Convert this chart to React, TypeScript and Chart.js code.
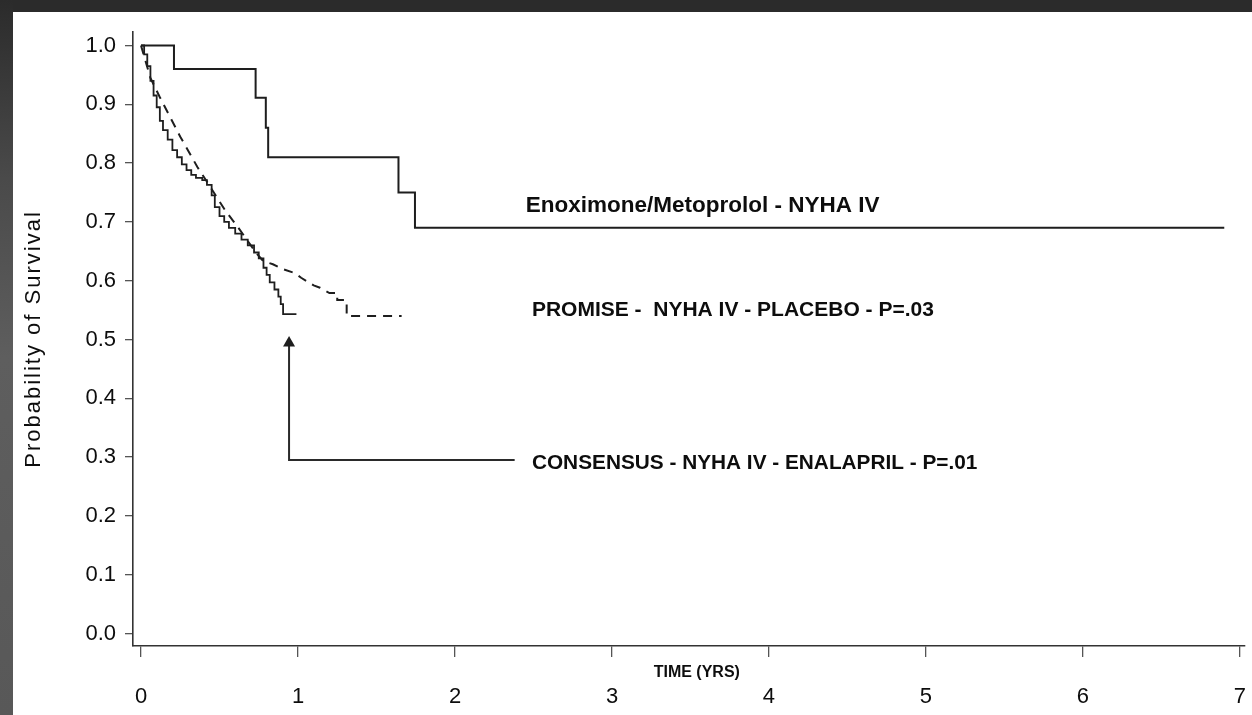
import React, { useEffect, useRef } from "react";
import { Chart, registerables } from "chart.js";

Chart.register(...registerables);

// ---------- data ----------
const xTicks = [0, 1, 2, 3, 4, 5, 6, 7];
const yTicks = [0, 0.1, 0.2, 0.3, 0.4, 0.5, 0.6, 0.7, 0.8, 0.9, 1.0];

// Enoximone/Metoprolol - NYHA IV (Kaplan-Meier steps)
const enoxTimes = [0, 0.21, 0.73, 0.795, 0.81, 1.64, 1.745, 6.9];
const enoxSurvival = [1.0, 0.96, 0.911, 0.86, 0.81, 0.75, 0.69, 0.69];

// CONSENSUS - NYHA IV - Enalapril (Kaplan-Meier steps)
const consTimes = [
  0, 0.02, 0.04, 0.06, 0.08, 0.1, 0.12, 0.14, 0.17, 0.2, 0.23, 0.26, 0.29, 0.32,
  0.35, 0.39, 0.42, 0.45, 0.47, 0.5, 0.53, 0.56, 0.6, 0.64, 0.68, 0.72, 0.75,
  0.78, 0.8, 0.82, 0.85, 0.875, 0.89, 0.905, 0.99,
];
const consSurvival = [
  1.0, 0.985, 0.965, 0.94, 0.915, 0.895, 0.872, 0.856, 0.84, 0.822, 0.81, 0.798,
  0.788, 0.78, 0.775, 0.771, 0.763, 0.745, 0.725, 0.71, 0.7, 0.69, 0.68, 0.67,
  0.66, 0.648, 0.638, 0.622, 0.61, 0.597, 0.585, 0.573, 0.56, 0.543, 0.543,
];

// PROMISE - NYHA IV - Placebo (dashed)
const promTimes = [
  0, 0.06, 0.12, 0.25, 0.36, 0.44, 0.535, 0.62, 0.74, 0.78, 0.84, 0.9, 0.98,
  1.02, 1.1, 1.14, 1.2, 1.25, 1.25, 1.31, 1.31, 1.66,
];
const promSurvival = [
  1.0, 0.945, 0.912, 0.845, 0.793, 0.76, 0.72, 0.69, 0.645, 0.633, 0.628, 0.62,
  0.613, 0.605, 0.592, 0.588, 0.579, 0.579, 0.567, 0.567, 0.54, 0.54,
];

// arrow pointing at the CONSENSUS curve
const arrowX = [2.38, 0.943, 0.943];
const arrowY = [0.295, 0.295, 0.49];
const arrowTipY = 0.506;

// annotation texts
const labelTexts = [
  "Enoximone/Metoprolol - NYHA IV",
  "PROMISE -  NYHA IV - PLACEBO - P=.03",
  "CONSENSUS - NYHA IV - ENALAPRIL - P=.01",
];
const labelX = [2.45, 2.49, 2.49];
const labelY = [0.728, 0.55, 0.29];
const labelSizes = [22.5, 21, 20.8];

const xTitle = "TIME (YRS)";
const yTitle = "Probability of Survival";

// ---------- styles ----------
const FONT = "'Liberation Sans', Arial, Helvetica, sans-serif";
const INK = "#0d0d0d";
const LINE = "#1e1e1e";

const X_MIN = -0.051;
const X_MAX = 7.032;
const Y_MIN = -0.0213;
const Y_MAX = 1.023;

const pts = (xs: number[], ys: number[]) => xs.map((x, i) => ({ x, y: ys[i] }));

const annotationPlugin = {
  id: "annotations",
  afterDraw(chart: any) {
    const { ctx, scales, chartArea } = chart;
    const xs = scales.x;
    const ys = scales.y;
    ctx.save();
    // arrow head
    const ax = xs.getPixelForValue(arrowX[arrowX.length - 1]);
    const tip = ys.getPixelForValue(arrowTipY);
    const base = ys.getPixelForValue(arrowY[arrowY.length - 1]) + 1;
    ctx.fillStyle = LINE;
    ctx.beginPath();
    ctx.moveTo(ax, tip);
    ctx.lineTo(ax - 6, base);
    ctx.lineTo(ax + 6, base);
    ctx.closePath();
    ctx.fill();

    // annotation labels
    ctx.fillStyle = INK;
    ctx.textAlign = "left";
    ctx.textBaseline = "middle";
    labelTexts.forEach((t, i) => {
      ctx.font = `bold ${labelSizes[i]}px ${FONT}`;
      ctx.fillText(t, xs.getPixelForValue(labelX[i]), ys.getPixelForValue(labelY[i]));
    });

    // x title (between tick marks and tick labels)
    ctx.font = `bold 16px ${FONT}`;
    ctx.textAlign = "center";
    ctx.fillText(xTitle, xs.getPixelForValue(3.54), xs.top + 27);

    // y title
    ctx.translate(21, (chartArea.top + chartArea.bottom) / 2);
    ctx.rotate(-Math.PI / 2);
    ctx.font = `22px ${FONT}`;
    (ctx as any).letterSpacing = "2px";
    ctx.textAlign = "center";
    ctx.fillText(yTitle, 0, 0);
    ctx.restore();
  },
};

export default function App() {
  const ref = useRef<HTMLCanvasElement>(null);

  useEffect(() => {
    const canvas = ref.current;
    if (!canvas) return;
    const chart = new Chart(canvas, {
      type: "line",
      data: {
        datasets: [
          {
            label: "Enoximone/Metoprolol - NYHA IV",
            data: pts(enoxTimes, enoxSurvival),
            stepped: "before",
            borderColor: LINE,
            borderWidth: 2,
            pointRadius: 0,
          },
          {
            label: "CONSENSUS - NYHA IV - Enalapril",
            data: pts(consTimes, consSurvival),
            stepped: "before",
            borderColor: LINE,
            borderWidth: 1.8,
            pointRadius: 0,
          },
          {
            label: "PROMISE - NYHA IV - Placebo",
            data: pts(promTimes, promSurvival),
            borderColor: LINE,
            borderWidth: 2,
            borderDash: [9, 7],
            pointRadius: 0,
            tension: 0,
          },
          {
            label: "arrow",
            data: pts(arrowX, arrowY),
            borderColor: "#2a2a2a",
            borderWidth: 2,
            pointRadius: 0,
          },
        ],
      },
      options: {
        animation: false,
        responsive: false,
        devicePixelRatio: 1,
        layout: { padding: { top: 20, right: 7, left: 0, bottom: 0 } },
        plugins: { legend: { display: false }, tooltip: { enabled: false } },
        scales: {
          x: {
            type: "linear",
            min: X_MIN,
            max: X_MAX,
            afterBuildTicks: (s: any) => {
              s.ticks = xTicks.map((v) => ({ value: v }));
            },
            afterFit: (s: any) => {
              s.height = 69;
              s.paddingLeft = 0;
              s.paddingRight = 0;
            },
            grid: {
              drawOnChartArea: false,
              drawTicks: true,
              tickLength: 11,
              color: "#555",
              lineWidth: 1.3,
            },
            border: { display: true, color: "#333", width: 1.6 },
            ticks: {
              font: { family: FONT, size: 22 },
              color: INK,
              padding: 27,
              maxRotation: 0,
              autoSkip: false,
              callback: (v: any) => String(v),
            },
          },
          y: {
            type: "linear",
            min: Y_MIN,
            max: Y_MAX,
            afterBuildTicks: (s: any) => {
              s.ticks = yTicks.map((v) => ({ value: v }));
            },
            afterFit: (s: any) => {
              s.width = 120;
              s.paddingTop = 0;
              s.paddingBottom = 0;
            },
            grid: {
              drawOnChartArea: false,
              drawTicks: true,
              tickLength: 8,
              color: "#555",
              lineWidth: 1.3,
            },
            border: { display: true, color: "#333", width: 1.6 },
            ticks: {
              font: { family: FONT, size: 22 },
              color: INK,
              padding: 9,
              autoSkip: false,
              callback: (v: any) => Number(v).toFixed(1),
            },
          },
        },
      },
      plugins: [annotationPlugin],
    });
    return () => chart.destroy();
  }, []);

  return (
    <div
      style={{
        position: "fixed",
        left: 0,
        top: 0,
        width: 1252,
        height: 715,
        background: "#ffffff",
        overflow: "hidden",
      }}
    >
      <div
        style={{
          position: "absolute",
          left: 0,
          top: 0,
          width: 1252,
          height: 12,
          background: "#2b2b2b",
        }}
      />
      <div
        style={{
          position: "absolute",
          left: 0,
          top: 0,
          width: 13,
          height: 715,
          background: "linear-gradient(to bottom, #2b2b2b 0%, #4a4a4a 25%, #5e5e5e 50%, #585858 100%)",
        }}
      />
      <canvas
        ref={ref}
        width={1239}
        height={703}
        style={{ position: "absolute", left: 13, top: 12, width: 1239, height: 703 }}
      />
    </div>
  );
}
